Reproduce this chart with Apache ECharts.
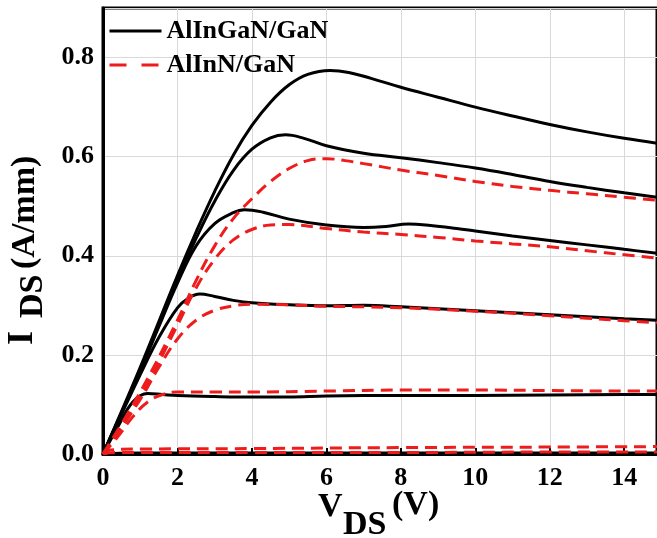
<!DOCTYPE html>
<html>
<head>
<meta charset="utf-8">
<script src="https://cdn.jsdelivr.net/npm/echarts@6/dist/echarts.min.js"></script>
<style>
html,body{margin:0;padding:0;background:#fff;}
#chart{width:657px;height:538px;}
</style>
</head>
<body>
<div id="chart"></div>
<script>
// Legend names
const seriesNames = ['AlInGaN/GaN', 'AlInN/GaN'];
// X tick labels (V_DS, V)
const xTicks = [0, 2, 4, 6, 8, 10, 12, 14];
// Y tick labels (I_DS, A/mm)
const yTicks = [0.0, 0.2, 0.4, 0.6, 0.8];

// AlInGaN/GaN curves: [V_DS, I_DS]
const alingan1 = [[0,0],[0.2,0.001],[1,0.002],[4,0.002],[8,0.002],[12,0.002],[14.9,0.002]];
const alingan2 = [[0,0],[0.4,0.055],[0.8,0.105],[1.2,0.122],[1.6,0.12],[2,0.118],[3,0.116],[4,0.115],[5,0.115],[6,0.117],[8,0.118],[10,0.118],[12,0.119],[14,0.12],[14.9,0.12]];
const alingan3 = [[0,0],[1,0.16],[1.5,0.235],[2,0.295],[2.3,0.315],[2.6,0.323],[3,0.318],[3.5,0.31],[4,0.305],[5,0.301],[6,0.299],[7,0.3],[8,0.297],[9,0.293],[10,0.289],[11,0.285],[12,0.281],[13,0.277],[14,0.273],[14.9,0.27]];
const alingan4 = [[0,0],[1,0.168],[1.5,0.257],[2,0.345],[2.5,0.42],[3,0.465],[3.5,0.487],[3.8,0.493],[4.3,0.488],[5,0.474],[6,0.462],[7,0.457],[7.6,0.459],[8.2,0.464],[8.8,0.461],[9.5,0.455],[10,0.45],[11,0.44],[12,0.431],[13,0.422],[14,0.413],[14.9,0.405]];
const alingan5 = [[0,0],[1,0.17],[2,0.352],[2.5,0.435],[3,0.51],[3.5,0.572],[4,0.615],[4.5,0.638],[4.9,0.644],[5.4,0.637],[6,0.622],[7,0.607],[8,0.598],[9,0.588],[10,0.577],[11,0.564],[12,0.55],[13,0.538],[14,0.527],[14.9,0.518]];
const alingan6 = [[0,0],[1,0.175],[2,0.36],[2.5,0.448],[3,0.53],[3.5,0.603],[4,0.663],[4.5,0.71],[5,0.745],[5.5,0.766],[6.1,0.774],[6.6,0.77],[7.2,0.758],[8,0.74],[9,0.72],[10,0.7],[11,0.682],[12,0.665],[13,0.65],[14,0.637],[14.9,0.627]];

// AlInN/GaN curves: [V_DS, I_DS]
const alinn1 = [[0,0],[0.3,0.003],[4,0.003],[8,0.003],[12,0.004],[14.9,0.004]];
const alinn2 = [[0,0],[0.2,0.008],[1,0.01],[4,0.011],[8,0.013],[12,0.014],[14.9,0.015]];
const alinn3 = [[0,0],[0.4,0.035],[0.8,0.075],[1.2,0.105],[1.6,0.12],[2,0.125],[3,0.125],[4,0.125],[6,0.127],[8,0.129],[10,0.129],[12,0.128],[14,0.127],[14.9,0.127]];
const alinn4 = [[0,0],[1,0.11],[1.5,0.175],[2,0.232],[2.5,0.27],[3,0.29],[3.5,0.299],[4,0.302],[5,0.301],[6,0.298],[7,0.297],[8,0.295],[9,0.292],[10,0.288],[11,0.284],[12,0.279],[13,0.274],[14,0.269],[14.9,0.265]];
const alinn5 = [[0,0],[1,0.115],[2,0.26],[2.5,0.335],[3,0.393],[3.5,0.432],[4,0.453],[4.5,0.462],[5,0.463],[6,0.455],[7,0.448],[8,0.443],[9,0.437],[10,0.43],[11,0.424],[12,0.418],[13,0.41],[14,0.402],[14.9,0.395]];
const alinn6 = [[0,0],[1,0.125],[2,0.27],[2.5,0.35],[3,0.42],[3.5,0.475],[4,0.515],[4.5,0.55],[5,0.576],[5.5,0.592],[6,0.596],[6.5,0.592],[7,0.586],[8,0.573],[9,0.562],[10,0.55],[11,0.54],[12,0.532],[13,0.525],[14,0.518],[14.9,0.512]];

const blackCurves = [alingan1, alingan2, alingan3, alingan4, alingan5, alingan6];
const redCurves = [alinn1, alinn2, alinn3, alinn4, alinn5, alinn6];

const FONT = '"Liberation Serif", "Times New Roman", serif';

const series = [];
blackCurves.forEach(d => series.push({
  name: seriesNames[0], type: 'line', data: d, smooth: 0.4,
  symbol: 'none', showSymbol: false, lineStyle: {color: '#000', width: 3}, itemStyle: {color: '#000'}, z: 2
}));
redCurves.forEach(d => series.push({
  name: seriesNames[1], type: 'line', data: d, smooth: 0.4,
  symbol: 'none', showSymbol: false, lineStyle: {color: '#ee1c1c', width: 3, type: [12, 7]}, itemStyle: {color: '#ee1c1c'}, z: 3
}));

const chart = echarts.init(document.getElementById('chart'), null, {renderer: 'canvas'});
chart.setOption({
  animation: false,
  backgroundColor: '#fff',
  grid: {left: 103, right: -4, top: 8, bottom: 84, containLabel: false, show: true, borderColor: '#000', borderWidth: 3, backgroundColor: 'transparent'},
  legend: {
    orient: 'vertical', left: 108, top: 16, padding: 0, itemWidth: 52, itemHeight: 14, itemGap: 4,
    itemStyle: {opacity: 0},
    textStyle: {fontFamily: FONT, fontWeight: 'bold', fontSize: 26, color: '#000', lineHeight: 30},
    data: [
      {name: seriesNames[0], itemStyle: {opacity: 0}, lineStyle: {color: '#000', width: 3, type: 'solid'}},
      {name: seriesNames[1], itemStyle: {opacity: 0}, lineStyle: {color: '#ee1c1c', width: 3, type: [17, 15]}}
    ]
  },
  xAxis: {
    type: 'value', min: 0, max: 14.88, interval: 2,
    axisLine: {show: true, onZero: false, lineStyle: {color: '#000', width: 3}},
    axisTick: {show: true, inside: true, length: 6, lineStyle: {color: '#000', width: 2}},
    axisLabel: {
      show: true, margin: 11, showMaxLabel: false, color: '#000', fontFamily: FONT, fontWeight: 'bold', fontSize: 26,
      formatter: v => xTicks.indexOf(v) >= 0 ? String(v) : ''
    },
    splitLine: {show: true, lineStyle: {color: '#d9d9d9', width: 1}}
  },
  yAxis: {
    type: 'value', min: 0, max: 0.9, interval: 0.2,
    axisLine: {show: true, onZero: false, lineStyle: {color: '#000', width: 3}},
    axisTick: {show: false},
    axisLabel: {
      show: true, margin: 9, showMaxLabel: false, color: '#000', fontFamily: FONT, fontWeight: 'bold', fontSize: 26,
      formatter: v => yTicks.some(t => Math.abs(t - v) < 1e-6) ? v.toFixed(1) : ''
    },
    splitLine: {show: true, lineStyle: {color: '#d9d9d9', width: 1}}
  },
  graphic: [
    // x axis title: V_DS (V)
    {type: 'text', x: 318, y: 507, style: {text: 'V', fontFamily: FONT, fontWeight: 'bold', fontSize: 34, fill: '#000', align: 'left', verticalAlign: 'middle'}},
    {type: 'text', x: 343, y: 525, style: {text: 'DS', fontFamily: FONT, fontWeight: 'bold', fontSize: 34, fill: '#000', align: 'left', verticalAlign: 'middle'}},
    {type: 'text', x: 392, y: 505, style: {text: '(V)', fontFamily: FONT, fontWeight: 'bold', fontSize: 34, fill: '#000', align: 'left', verticalAlign: 'middle'}},
    // y axis title: I_DS (A/mm), rotated
    {type: 'text', x: 23, y: 345, rotation: Math.PI / 2, style: {text: 'I', fontFamily: FONT, fontWeight: 'bold', fontSize: 36, fill: '#000', align: 'left', verticalAlign: 'middle'}},
    {type: 'text', x: 33, y: 318, rotation: Math.PI / 2, style: {text: 'DS', fontFamily: FONT, fontWeight: 'bold', fontSize: 34, fill: '#000', align: 'left', verticalAlign: 'middle'}},
    {type: 'text', x: 25, y: 269, rotation: Math.PI / 2, style: {text: '(A/mm)', fontFamily: FONT, fontWeight: 'bold', fontSize: 34, fill: '#000', align: 'left', verticalAlign: 'middle'}}
  ],
  series: series
});
</script>
</body>
</html>
